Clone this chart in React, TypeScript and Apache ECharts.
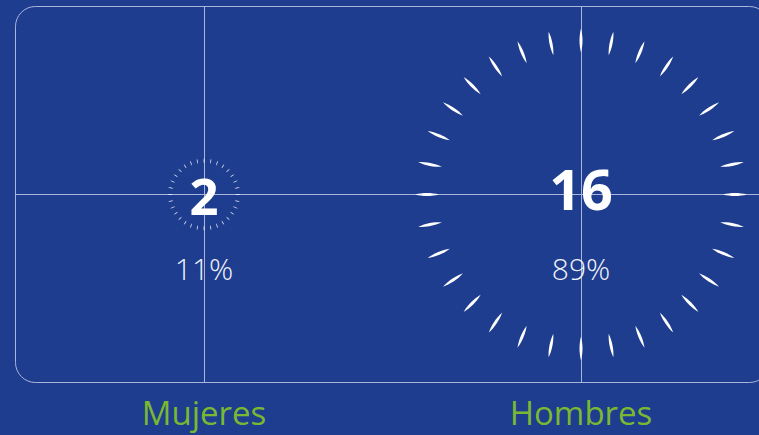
import { useEffect, useRef } from "react";
import * as echarts from "echarts";

const categories = ["Mujeres", "Hombres"];
const counts = [2, 16];
const percents = [11, 89];

const BG = "#1e3d8e";
const LINE = "#aab5de";
const GREEN = "#7ab833";
const FONT = "'Open Sans', 'Noto Sans', sans-serif";
const MARKS = 32;

export default function App() {
  const ref = useRef<HTMLDivElement>(null);
  useEffect(() => {
    const chart = echarts.init(ref.current!, null, { renderer: "svg" });
    const data = categories.map((c, i) => [i, 0, counts[i], percents[i]]);
    chart.setOption({
      animation: false,
      backgroundColor: BG,
      grid: {
        left: 15.5,
        top: 6.5,
        width: 754,
        height: 376,
        outerBoundsMode: "none",
        containLabel: false,
      },
      xAxis: {
        type: "category",
        data: categories,
        axisLine: { show: false },
        axisTick: { show: false },
        splitLine: { show: false },
        axisLabel: {
          color: GREEN,
          fontSize: 33,
          lineHeight: 34,
          fontFamily: FONT,
          margin: 13,
        },
      },
      yAxis: { type: "value", min: -1, max: 1, show: false },
      graphic: [
        {
          type: "rect",
          silent: true,
          z: 0,
          shape: { x: 15.5, y: 6.5, width: 754, height: 376, r: 20 },
          style: { fill: "none", stroke: LINE, lineWidth: 1 },
        },
      ],
      series: [
        {
          type: "custom",
          z: 10,
          data,
          encode: { x: 0, y: 1 },
          renderItem: (params: any, api: any) => {
            const v = api.value(2) as number;
            const p = api.value(3) as number;
            const [cx, cy] = api.coord([api.value(0), api.value(1)]);
            const rOut = 18 + 9.25 * v;
            const len = rOut * 0.145;
            const rIn = rOut - len;
            const hw = Math.max(rOut * 0.009, 0.45);
            const children: any[] = [];
            for (let k = 0; k < MARKS; k++) {
              const a = (k / MARKS) * Math.PI * 2;
              const ux = Math.cos(a);
              const uy = -Math.sin(a);
              const nx = -uy;
              const ny = ux;
              const pts: number[][] = [];
              const N = 8;
              for (let j = 0; j <= N; j++) {
                const t = -1 + (2 * j) / N;
                const r = rIn + ((t + 1) / 2) * len;
                const h = hw * (1 - t * t);
                pts.push([cx + ux * r + nx * h, cy + uy * r + ny * h]);
              }
              for (let j = N - 1; j >= 1; j--) {
                const t = -1 + (2 * j) / N;
                const r = rIn + ((t + 1) / 2) * len;
                const h = hw * (1 - t * t);
                pts.push([cx + ux * r - nx * h, cy + uy * r - ny * h]);
              }
              children.push({
                type: "polygon",
                shape: { points: pts },
                style: { fill: "#ffffff", opacity: v < 5 ? 0.8 : 1 },
              });
            }
            const numSize = 50 + 0.36 * v;
            children.push({
              type: "text",
              x: cx,
              y: cy + 1.5 - 0.5 * v,
              style: {
                text: String(v),
                fill: "#ffffff",
                fontSize: numSize,
                fontWeight: 700,
                fontFamily: FONT,
                align: "center",
                verticalAlign: "middle",
              },
            });
            children.push({
              type: "text",
              x: cx,
              y: cy + 74,
              style: {
                text: p + "%",
                fill: "#eef1fa",
                fontSize: 30,
                fontWeight: 300,
                fontFamily: FONT,
                align: "center",
                verticalAlign: "middle",
              },
            });
            return { type: "group", children };
          },
          markLine: {
            silent: true,
            symbol: ["none", "none"],
            label: { show: false },
            lineStyle: { color: LINE, type: "solid", width: 1 },
            data: [{ xAxis: 0 }, { xAxis: 1 }, { yAxis: 0 }],
          },
        },
      ],
    });
    return () => chart.dispose();
  }, []);
  return (
    <div
      ref={ref}
      style={{ position: "fixed", left: 0, top: 0, width: 759, height: 435, background: BG }}
    />
  );
}
